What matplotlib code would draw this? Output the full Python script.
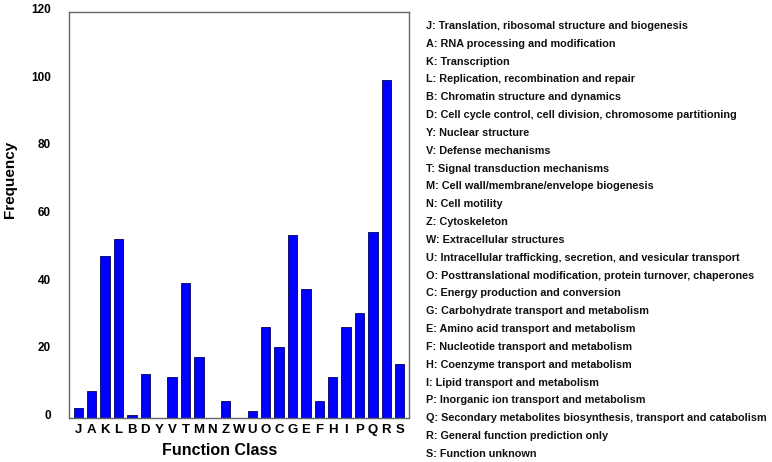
import matplotlib
matplotlib.use('Agg')
from matplotlib import pyplot as plt
from matplotlib import transforms
import numpy as np

plt.rcParams['font.family'] = ['Liberation Sans', 'DejaVu Sans']

classes = ['J', 'A', 'K', 'L', 'B', 'D', 'Y', 'V', 'T', 'M', 'N', 'Z', 'W',
           'U', 'O', 'C', 'G', 'E', 'F', 'H', 'I', 'P', 'Q', 'R', 'S']
counts = [3, 8, 48, 53, 1, 13, 0, 12, 40, 18, 0, 5, 0,
          2, 27, 21, 54, 38, 5, 12, 27, 31, 55, 100, 16]
descriptions = [
    'Translation, ribosomal structure and biogenesis',
    'RNA processing and modification',
    'Transcription',
    'Replication, recombination and repair',
    'Chromatin structure and dynamics',
    'Cell cycle control, cell division, chromosome partitioning',
    'Nuclear structure',
    'Defense mechanisms',
    'Signal transduction mechanisms',
    'Cell wall/membrane/envelope biogenesis',
    'Cell motility',
    'Cytoskeleton',
    'Extracellular structures',
    'Intracellular trafficking, secretion, and vesicular transport',
    'Posttranslational modification, protein turnover, chaperones',
    'Energy production and conversion',
    'Carbohydrate transport and metabolism',
    'Amino acid transport and metabolism',
    'Nucleotide transport and metabolism',
    'Coenzyme transport and metabolism',
    'Lipid transport and metabolism',
    'Inorganic ion transport and metabolism',
    'Secondary metabolites biosynthesis, transport and catabolism',
    'General function prediction only',
    'Function unknown',
]

fig = plt.figure(figsize=(7.72, 4.62), dpi=100)
ax = fig.add_axes([0.0894, 0.0952, 0.4404, 0.8788])

X = np.arange(len(classes))
ax.bar(X, counts, width=0.7, color='#0000ff', edgecolor='#000060', linewidth=0.6)
ax.set_xlim(-0.7, len(classes) - 0.3)
ax.set_ylim(0, 120)
ax.set_yticks(np.arange(0, 121, 20))
ax.set_xticks(X)
ax.set_xticklabels(classes, fontweight='bold', fontsize=9.5)
ax.tick_params(axis='both', length=0)
ax.tick_params(axis='y', pad=13)
ax.tick_params(axis='x', pad=4)
for lab in ax.get_yticklabels():
    lab.set_fontweight('bold')
    lab.set_fontsize(8.5)
    lab.set_transform(transforms.offset_copy(lab.get_transform(), fig, y=3.5, units='dots'))
for side in ['left', 'top', 'right', 'bottom']:
    ax.spines[side].set_color('#666666')
    ax.spines[side].set_linewidth(1.0)

ax.set_ylabel('Frequency', fontweight='bold', fontsize=11, ha='center', va='center')
ax.yaxis.set_label_coords(-0.1735, 0.589)
ax.set_xlabel('Function Class', fontweight='bold', fontsize=11.5, ha='center', va='center')
ax.xaxis.set_label_coords(0.444, -0.081)

# category legend on the right
y0 = 1 - 26 / 462
step = 17.83 / 462
for i, (c, d) in enumerate(zip(classes, descriptions)):
    fig.text(426 / 772, y0 - i * step, f'{c}: {d}', fontsize=7.85,
             fontweight='bold', va='center', ha='left', color='#111111')

plt.savefig('out.png', dpi=100)
